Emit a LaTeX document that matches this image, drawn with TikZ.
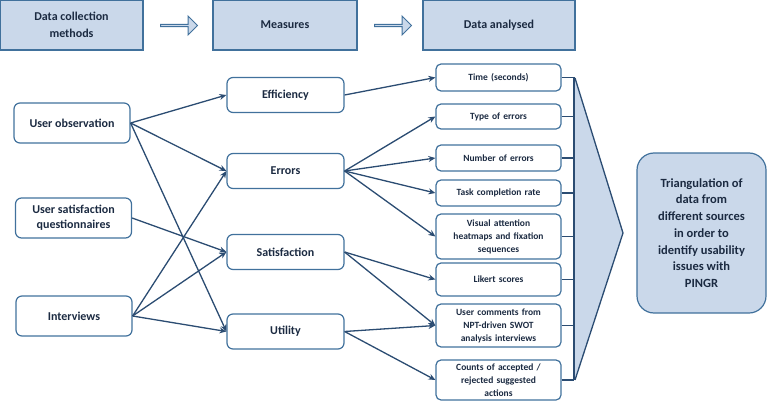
\documentclass[tikz,border=0pt]{standalone}
\usepackage{fontspec}
\setmainfont{Carlito}
\usetikzlibrary{arrows.meta,shapes.arrows}
\definecolor{boxline}{HTML}{41719C}
\definecolor{boxfill}{HTML}{CAD8EA}
\definecolor{ink}{HTML}{1B2A41}
\definecolor{wire}{HTML}{2B4C72}

\begin{document}
\begin{tikzpicture}[x=1pt,y=-1pt,
    head/.style={draw=boxline, fill=boxfill, line width=1.2pt, align=center, text=ink,
      font=\bfseries\fontsize{12}{17}\selectfont, minimum height=50pt},
    flow/.style={single arrow, draw=boxline, fill=boxfill, line width=1pt,
      minimum height=37pt, minimum width=19pt, single arrow head extend=4pt, inner sep=0pt},
    src/.style={draw=boxline, line width=1.2pt, rounded corners=6pt, align=center, text=ink,
      font=\bfseries\fontsize{12}{15}\selectfont, minimum width=116pt, minimum height=40pt},
    meas/.style={src, minimum width=117pt, minimum height=35pt},
    res/.style={draw=boxline, line width=1.2pt, rounded corners=5pt, align=center, text=ink,
      font=\bfseries\fontsize{9.5}{13}\selectfont, minimum width=125pt, text width=118pt},
    link/.style={draw=wire, line width=1.3pt, -{Stealth[length=7pt,width=6pt]}}]
  \useasboundingbox (0,0) rectangle (767,401);

  % header row
  \node[head, minimum width=143pt] (h1) at (71.5,25) {Data collection\\methods};
  \node[flow] (f1) at (178.5,25.5) {};
  \node[head, minimum width=144pt] (h2) at (285,25) {Measures};
  \node[flow] (f2) at (392.5,25.5) {};
  \node[head, minimum width=152pt] (h3) at (499,25) {Data analysed};

  % data collection methods
  \node[src] (a) at (72,123) {User observation};
  \node[src] (b) at (73.5,218) {User satisfaction\\questionnaires};
  \node[src] (c) at (74,316) {Interviews};

  % measures
  \node[meas] (d) at (285.5,95) {Efficiency};
  \node[meas] (e) at (285.5,171) {Errors};
  \node[meas] (f) at (285.5,252) {Satisfaction};
  \node[meas] (g) at (285.5,331.5) {Utility};

  % data analysed
  \node[res, minimum height=27pt] (i) at (498.5,77.5) {Time (seconds)};
  \node[res, minimum height=25pt] (j) at (498.5,116.5) {Type of errors};
  \node[res, minimum height=26pt] (k) at (498.5,158) {Number of errors};
  \node[res, minimum height=26pt] (l) at (498.5,193) {Task completion rate};
  \node[res, minimum height=45pt] (m) at (498.5,236.5) {Visual attention\\heatmaps and fixation\\sequences};
  \node[res, minimum height=33pt] (n) at (498.5,279.5) {Likert scores};
  \node[res, minimum height=43pt] (o) at (498.5,325.5) {User comments from\\NPT-driven SWOT\\analysis interviews};
  \node[res, minimum height=40pt] (p) at (498.5,380) {Counts of accepted /\\rejected suggested\\actions};

  % bracket and funnel
  \fill[boxfill] (575,78) -- (623,233) -- (575,380) -- cycle;
  \draw[wire, line width=1.3pt] (575,78) -- (623,233) -- (575,380);
  \draw[wire, line width=1.3pt] (574,77.5) -- (574,380);
  \foreach \r in {i,j,k,l,m,n,o,p}
    \draw[wire, line width=1.3pt] (\r.east) -- (\r.east -| 574,0);

  % outcome
  \node[draw=boxline, fill=boxfill, line width=1.2pt, rounded corners=17pt, align=center, text=ink,
    font=\bfseries\fontsize{12.5}{16.7}\selectfont, minimum width=129pt, minimum height=160pt]
    (q) at (701.5,233) {Triangulation of\\data from\\different sources\\in order to\\identify usability\\issues with\\PINGR};

  \draw[link] (a.east) -- (d.west);
  \draw[link] (a.east) -- (e.west);
  \draw[link] (a.east) -- (g.west);
  \draw[link] (b.east) -- (f.west);
  \draw[link] (c.east) -- (e.west);
  \draw[link] (c.east) -- (f.west);
  \draw[link] (c.east) -- (g.west);
  \draw[link] (d.east) -- (i.west);
  \draw[link] (e.east) -- (j.west);
  \draw[link] (e.east) -- (k.west);
  \draw[link] (e.east) -- (l.west);
  \draw[link] (e.east) -- (m.west);
  \draw[link] (f.east) -- (n.west);
  \draw[link] (f.east) -- (o.west);
  \draw[link] (g.east) -- (o.west);
  \draw[link] (g.east) -- (p.west);
\end{tikzpicture}
\end{document}
